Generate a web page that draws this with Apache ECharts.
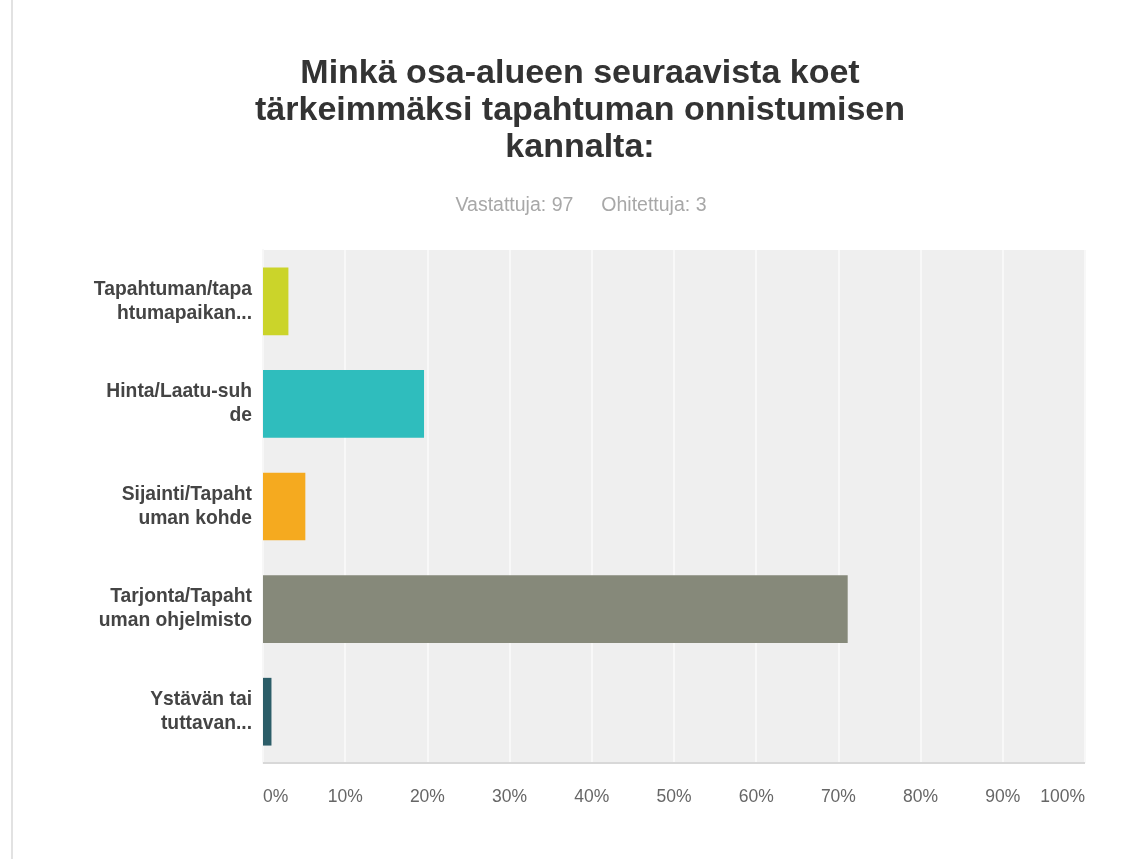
<!DOCTYPE html>
<html>
<head>
<meta charset="utf-8">
<title>Minkä osa-alueen seuraavista koet tärkeimmäksi tapahtuman onnistumisen kannalta</title>
<script src="https://cdn.jsdelivr.net/npm/echarts@6/dist/echarts.min.js"></script>
<style>
  html, body { margin: 0; padding: 0; background: #ffffff; }
  #chart { width: 1141px; height: 859px; }
</style>
</head>
<body>
<div id="chart"></div>
<script>
// Survey answers (share of respondents, %)
const categories = [
  'Tapahtuman/tapa\nhtumapaikan...',
  'Hinta/Laatu-suh\nde',
  'Sijainti/Tapaht\numan kohde',
  'Tarjonta/Tapaht\numan ohjelmisto',
  'Ystävän tai\ntuttavan...'
];
const shares = [3.09, 19.59, 5.15, 71.13, 1.03];
const barColors = ['#cbd42a', '#2fbdbd', '#f5aa1f', '#86897a', '#2c5d68'];
const xTicks = [0, 10, 20, 30, 40, 50, 60, 70, 80, 90, 100];
const answered = 97;
const skipped = 3;

const chart = echarts.init(document.getElementById('chart'), null, { renderer: 'canvas' });

const fontFamily = 'Liberation Sans, Arial, sans-serif';

chart.setOption({
  backgroundColor: '#ffffff',
  animation: false,
  title: [
    {
      text: 'Minkä osa-alueen seuraavista koet\ntärkeimmäksi tapahtuman onnistumisen\nkannalta:',
      left: 575,
      top: 50,
      textAlign: 'center',
      textStyle: {
        fontFamily: fontFamily,
        fontSize: 34,
        fontWeight: 'bold',
        color: '#333333',
        lineHeight: 37
      }
    },
    {
      text: '{a|Vastattuja: ' + answered + '}{b|Ohitettuja: ' + skipped + '}',
      left: 576,
      top: 191,
      textAlign: 'center',
      textStyle: {
        rich: {
          a: { fontFamily: fontFamily, fontSize: 19.5, fontWeight: 'normal', color: '#a8a8a8' },
          b: { fontFamily: fontFamily, fontSize: 19.5, fontWeight: 'normal', color: '#a8a8a8', padding: [0, 0, 0, 28] }
        }
      }
    }
  ],
  graphic: [
    {
      type: 'rect',
      shape: { x: 11, y: 0, width: 2, height: 859 },
      style: { fill: '#e2e2e2' },
      silent: true
    }
  ],
  grid: {
    left: 263,
    right: 56,
    top: 250,
    bottom: 96,
    show: true,
    backgroundColor: '#efefef',
    borderWidth: 0
  },
  xAxis: {
    type: 'value',
    min: 0,
    max: 100,
    interval: 10,
    axisLine: { show: false },
    axisTick: { show: false },
    splitLine: { show: true, lineStyle: { color: '#f8f8f8', width: 2 } },
    axisLabel: {
      formatter: function (v) { return xTicks.indexOf(v) >= 0 ? v + '%' : ''; },
      margin: 25,
      fontFamily: fontFamily,
      fontSize: 17.5,
      color: '#666666',
      alignMinLabel: 'left',
      alignMaxLabel: 'right'
    }
  },
  yAxis: {
    type: 'category',
    data: categories,
    inverse: true,
    axisLine: { show: true, onZero: false, lineStyle: { color: '#f7f7f7', width: 2 } },
    axisTick: { show: false },
    splitLine: { show: false },
    axisLabel: {
      margin: 11,
      fontFamily: fontFamily,
      fontSize: 19.3,
      fontWeight: 'bold',
      color: '#444444',
      lineHeight: 24,
      align: 'right'
    }
  },
  series: [
    {
      type: 'bar',
      data: shares.map(function (v, i) {
        return { value: v, itemStyle: { color: barColors[i] } };
      }),
      barCategoryGap: '34%',
      silent: true,
      markLine: {
        silent: true,
        symbol: 'none',
        label: { show: false },
        lineStyle: { color: '#d8d8d8', width: 2, type: 'solid' },
        data: [[{ coord: [0, 4], y: 763 }, { coord: [100, 4], y: 763 }]]
      }
    }
  ]
});
</script>
</body>
</html>
